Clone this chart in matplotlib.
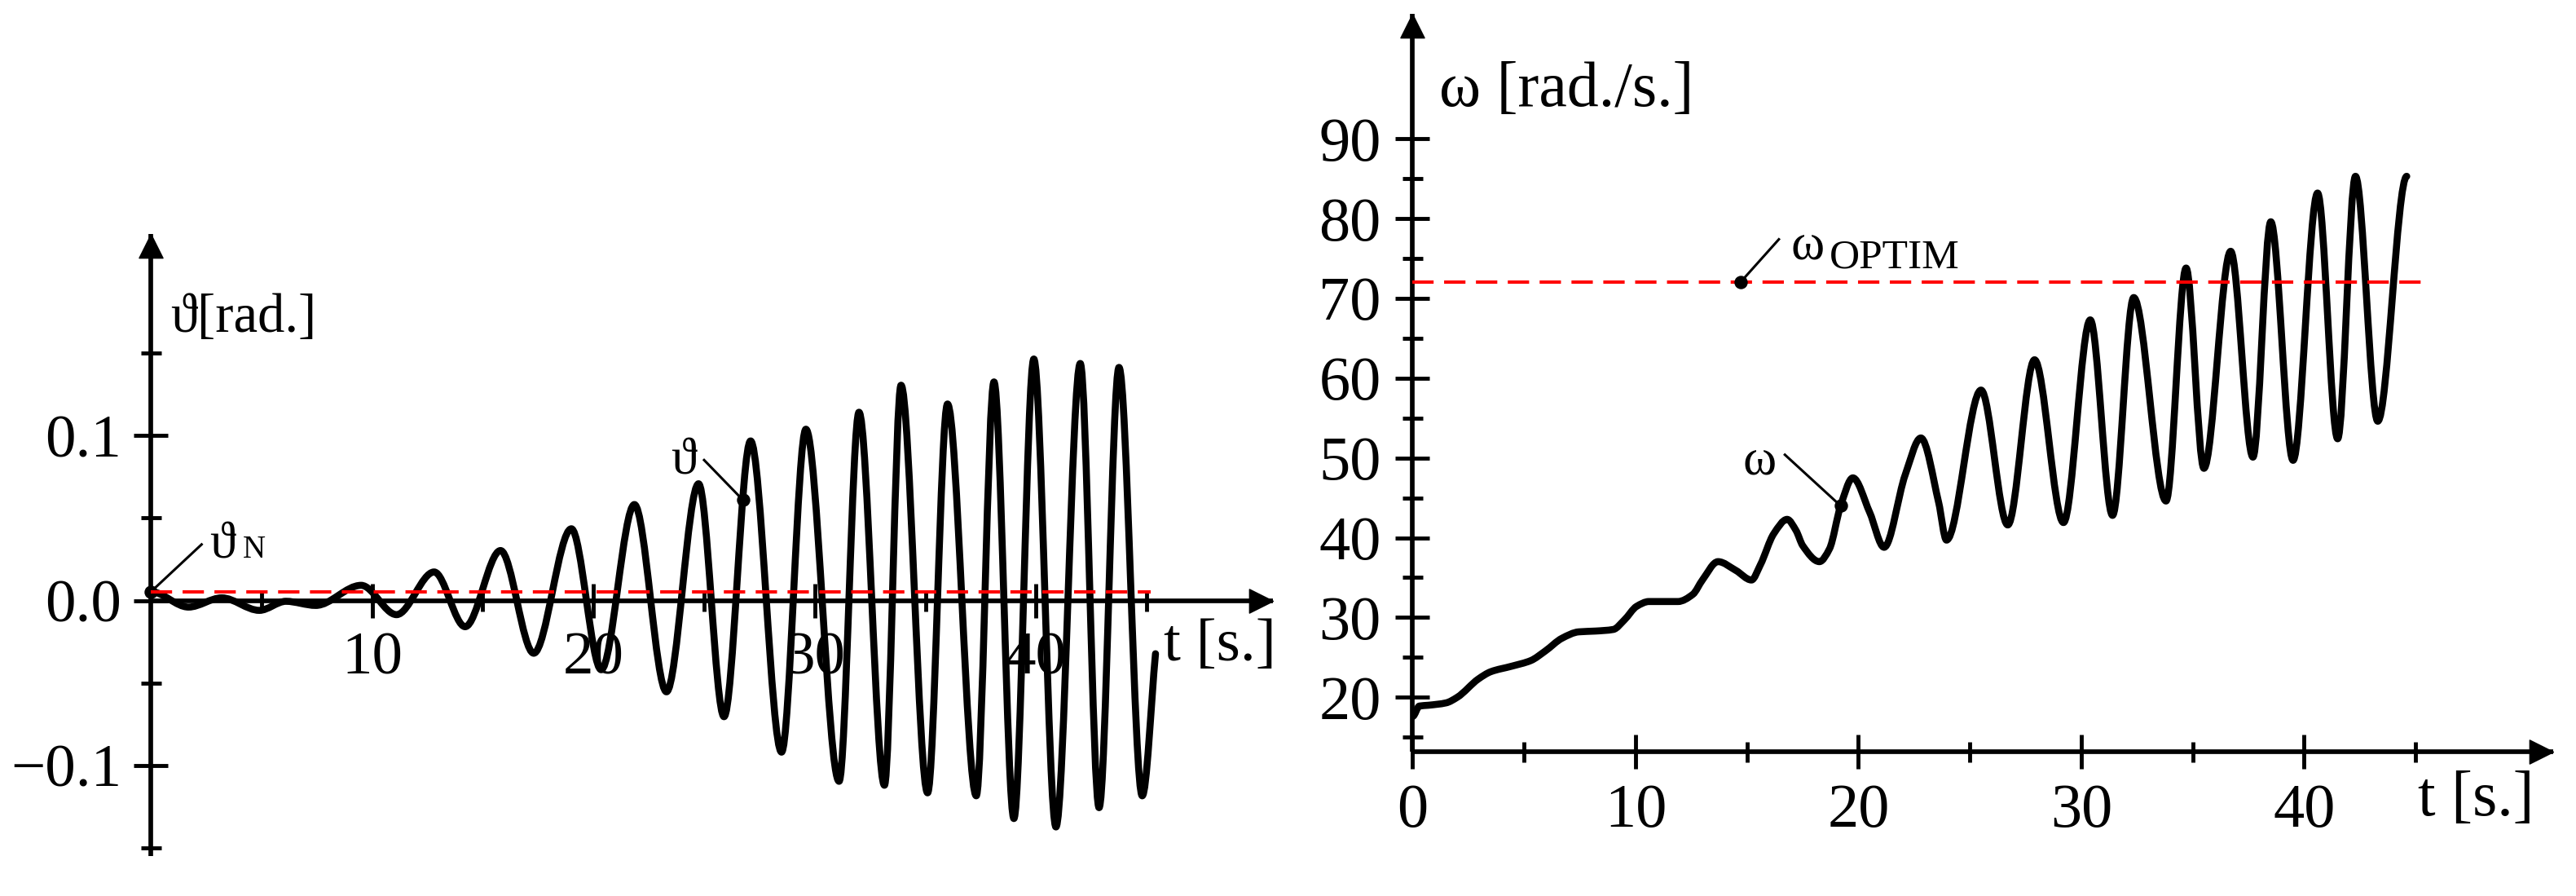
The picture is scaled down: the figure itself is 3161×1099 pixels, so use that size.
import numpy as np
import matplotlib.pyplot as plt
from matplotlib.path import Path
from matplotlib.patches import PathPatch

plt.rcParams['font.family'] = ['Liberation Serif', 'DejaVu Serif']

# theta(t): extrema and a few shape points
theta_t = [0.0, 1.7, 3.2, 4.9, 6.1, 7.45, 9.5, 11.1, 12.8, 14.2, 15.8, 17.3,
           19.0, 20.35, 21.85, 23.3, 24.75, 25.9, 27.1, 28.5, 29.6, 31.1, 32.0,
           33.15, 33.9, 35.1, 36.0, 37.3, 38.1, 39.0, 39.9, 40.9, 42.0, 42.85,
           43.75, 44.8, 45.4]
theta_v = [0.0053, -0.004, 0.0016, -0.006, -0.0005, -0.003, 0.0092, -0.0086,
           0.0173, -0.0159, 0.0303, -0.032, 0.0435, -0.042, 0.0582, -0.0554,
           0.0708, -0.0705, 0.0968, -0.092, 0.1039, -0.1097, 0.1142, -0.1121,
           0.1306, -0.1167, 0.1192, -0.1185, 0.1326, -0.1323, 0.1465, -0.1374,
           0.1438, -0.1257, 0.1414, -0.1185, -0.0323]
theta_n = 0.0053
theta_mark = (26.75, 0.061)

# omega(t)
omega_t = [0.0, 0.3, 0.7, 1.5, 2.0, 2.95, 3.5, 4.45, 5.3, 5.95, 6.7, 7.45, 8.2,
           9.0, 9.5, 10.05, 10.6, 11.9, 12.57, 13.0, 13.7, 14.5, 15.2, 15.6,
           16.2, 16.8, 17.2, 17.5, 18.25, 18.7, 19.2, 19.75, 20.5, 21.15, 22.1,
           22.8, 23.6, 23.95, 25.5, 26.7, 27.9, 29.2, 30.4, 31.4, 32.35, 33.8,
           34.7, 35.5, 36.7, 37.7, 38.5, 39.5, 40.6, 41.5, 42.3, 43.3, 44.6]
omega_v = [17.6, 18.9, 19.0, 19.3, 20.0, 22.3, 23.2, 23.9, 24.6, 25.8, 27.4,
           28.2, 28.3, 28.5, 29.7, 31.4, 32.0, 32.0, 32.9, 34.7, 37.0, 35.9,
           34.7, 36.6, 40.5, 42.3, 40.9, 39.0, 37.0, 38.6, 44.0, 47.5, 43.2,
           38.8, 47.9, 52.5, 44.4, 39.7, 58.5, 41.6, 62.3, 41.9, 67.3, 42.8,
           70.1, 44.6, 73.8, 48.7, 75.9, 50.1, 79.6, 49.7, 83.2, 52.4, 85.3,
           54.6, 85.3]
omega_optim = 72
omega_mark = (19.2, 44.0)
omega_optim_mark = 14.7


def smooth_path(x, y, flat_end=False):
    # smooth line through the read points (monotone cubic handles)
    x = np.asarray(x, float)
    y = np.asarray(y, float)
    h = np.diff(x)
    d = np.diff(y) / h
    m = np.zeros_like(y)
    for i in range(1, len(x) - 1):
        if d[i - 1] * d[i] > 0:
            w1 = 2 * h[i] + h[i - 1]
            w2 = h[i] + 2 * h[i - 1]
            m[i] = (w1 + w2) / (w1 / d[i - 1] + w2 / d[i])
    m[0] = 0
    m[-1] = 0 if flat_end else d[-1]
    verts = [(x[0], y[0])]
    codes = [Path.MOVETO]
    for i in range(len(h)):
        verts += [(x[i] + h[i] / 3, y[i] + m[i] * h[i] / 3),
                  (x[i + 1] - h[i] / 3, y[i + 1] - m[i + 1] * h[i] / 3),
                  (x[i + 1], y[i + 1])]
        codes += [Path.CURVE4] * 3
    return Path(verts, codes)


up_head = Path([(0, 0), (-0.5, -1), (0.5, -1), (0, 0)])
right_head = Path([(0, 0), (-1, -0.5), (-1, 0.5), (0, 0)])


def style_axes(ax, fs, xmax, ymax, y_at_x):
    for s in ['top', 'right']:
        ax.spines[s].set_visible(False)
    ax.spines['bottom'].set_position(('data', y_at_x))
    for s in ['left', 'bottom']:
        ax.spines[s].set_linewidth(4.1)
        ax.spines[s].set_capstyle('butt')
    ax.set_facecolor('none')
    ax.tick_params(which='major', direction='inout', length=30, width=3.5,
                   labelsize=fs, pad=13)
    ax.tick_params(which='minor', direction='inout', length=18, width=3.5)
    ax.plot(0, ymax, marker=up_head, ms=42, color='k', clip_on=False)
    ax.plot(xmax, y_at_x, marker=right_head, ms=42, color='k', clip_on=False)


fig = plt.figure(figsize=(31.61, 10.99), dpi=100)

# left: theta
axL = fig.add_axes([0.05859, 0.04468, 0.4355, 0.6939])
axL.set_xlim(0, 50.7)
axL.set_ylim(-0.155, 0.2222)
style_axes(axL, 54, 50.7, 0.2222, 0.0)
axL.set_xticks([10, 20, 30, 40])
axL.set_xticks([5, 15, 25, 35, 45], minor=True)
axL.set_yticks([-0.1, 0.0, 0.1], ['\u22120.1', '0.0', '0.1'])
axL.set_yticks([-0.15, -0.05, 0.05, 0.15], minor=True)
axL.tick_params(axis='y', pad=11)

axL.add_patch(PathPatch(smooth_path(theta_t, theta_v), fill=False, lw=6.2,
                        color='k', capstyle='round', joinstyle='round', zorder=2))
axL.plot([0, 45.2], [theta_n, theta_n], color='red', lw=2.9,
         ls=(0, (6.5, 3.2)), zorder=3)

axL.text(0.875, 0.1631, '\u03d1[rad.]', fontsize=48, ha='left', va='baseline')
axL.text(45.76, -0.0363, 't [s.]', fontsize=54, ha='left', va='baseline')

axL.plot([0, 2.29], [theta_n, 0.034], color='k', lw=2.2, clip_on=False)
axL.plot(0, theta_n, 'o', color='k', ms=10.8, clip_on=False)
axL.text(2.65, 0.026, '\u03d1', fontsize=46, ha='left', va='baseline')
axL.text(4.15, 0.026, 'N', fontsize=28, ha='left', va='baseline')

axL.plot([theta_mark[0], 25.0], [theta_mark[1], 0.0852], color='k', lw=2.2)
axL.plot(*theta_mark, 'o', color='k', ms=10.8)
axL.text(23.5, 0.0771, '\u03d1', fontsize=46, ha='left', va='baseline')

# right: omega
axR = fig.add_axes([0.5484, 0.16124, 0.44274, 0.8233])
axR.set_xlim(0, 51.17)
axR.set_ylim(13.2, 105.66)
style_axes(axR, 55, 51.17, 105.66, 13.2)
axR.set_xticks([0, 10, 20, 30, 40])
axR.set_xticks([5, 15, 25, 35, 45], minor=True)
axR.set_yticks([20, 30, 40, 50, 60, 70, 80, 90])
axR.set_yticks([15, 25, 35, 45, 55, 65, 75, 85], minor=True)

axR.add_patch(PathPatch(smooth_path(omega_t, omega_v, flat_end=True), fill=False,
                        lw=6.2, color='k', capstyle='round', joinstyle='round',
                        zorder=2))
axR.plot([0, 45.6], [omega_optim, omega_optim], color='red', lw=2.9,
         ls=(0, (6.5, 3.2)), zorder=3)

axR.text(1.19, 94.1, '\u03c9 [rad./s.]', fontsize=56, ha='left', va='baseline')
axR.text(45.1, 5.2, 't [s.]', fontsize=56, ha='left', va='baseline', clip_on=False)

axR.plot([omega_mark[0], 16.7], [omega_mark[1], 50.4], color='k', lw=2.2)
axR.plot(*omega_mark, 'o', color='k', ms=10.8, zorder=4)
axR.text(14.8, 47.9, '\u03c9', fontsize=45, ha='left', va='baseline')

axR.plot([omega_optim_mark, 16.43], [omega_optim, 77.4], color='k', lw=2.2)
axR.plot(omega_optim_mark, omega_optim, 'o', color='k', ms=10.8, zorder=4)
axR.text(16.95, 74.9, '\u03c9', fontsize=45, ha='left', va='baseline')
axR.text(18.7, 73.8, 'OPTIM', fontsize=37, ha='left', va='baseline')

fig.savefig('out.png', dpi=100, facecolor='white')
